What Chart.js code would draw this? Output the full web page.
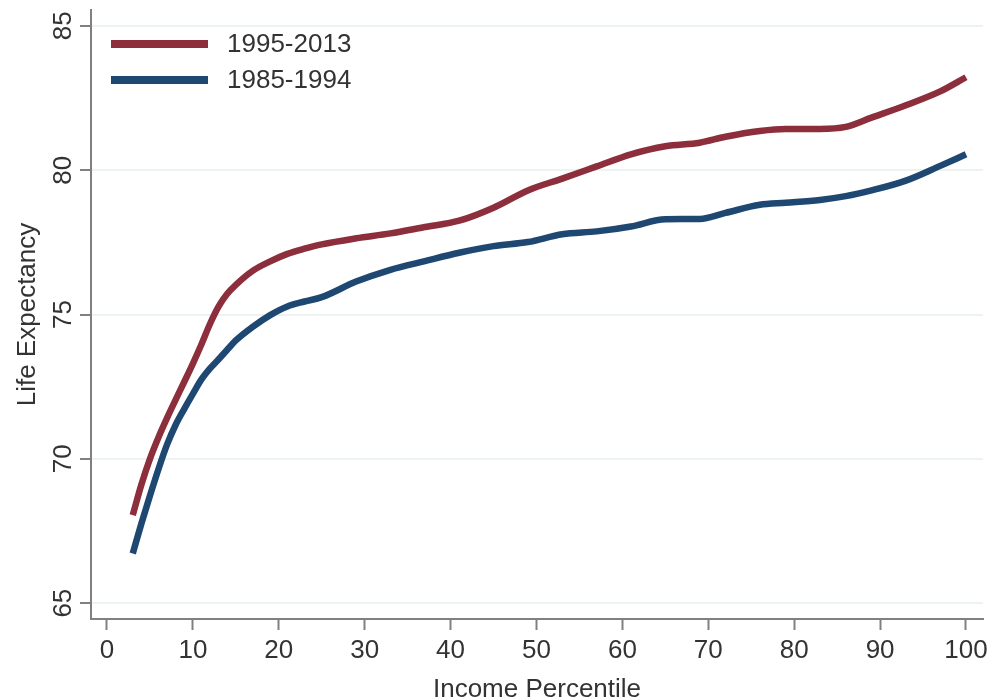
<!DOCTYPE html>
<html>
<head>
<meta charset="utf-8">
<script src="https://cdn.jsdelivr.net/npm/chart.js@4.4.1/dist/chart.umd.min.js"></script>
<style>
  html, body { margin: 0; padding: 0; background: #ffffff; }
  #wrap { width: 988px; height: 697px; }
</style>
</head>
<body>
<div id="wrap"><canvas id="chart" width="988" height="697"></canvas></div>
<script>
// Income percentile (x) and life expectancy in years (y) for two periods
const percentiles = [3, 4, 5, 6, 7, 8, 9, 10, 11, 12, 13, 14, 15, 17, 19, 21, 23, 25, 29, 33, 37, 41, 45, 49, 53, 57, 61, 65, 69, 72, 76, 79, 83, 86, 89, 93, 97, 100];
const lifeExp1995to2013 = [68.05, 69.1, 70.0, 70.75, 71.42, 72.05, 72.67, 73.3, 73.97, 74.68, 75.28, 75.72, 76.03, 76.52, 76.84, 77.1, 77.28, 77.43, 77.64, 77.81, 78.03, 78.25, 78.7, 79.3, 79.71, 80.13, 80.55, 80.83, 80.95, 81.16, 81.36, 81.43, 81.43, 81.5, 81.82, 82.25, 82.73, 83.22];
const lifeExp1985to1994 = [66.72, 67.75, 68.72, 69.65, 70.5, 71.18, 71.73, 72.25, 72.75, 73.13, 73.45, 73.78, 74.1, 74.58, 74.98, 75.28, 75.45, 75.6, 76.14, 76.55, 76.85, 77.14, 77.37, 77.51, 77.78, 77.88, 78.05, 78.3, 78.31, 78.52, 78.8, 78.87, 78.97, 79.1, 79.3, 79.64, 80.15, 80.55];
const seriesLabels = ['1995-2013', '1985-1994'];
const xTickValues = [0, 10, 20, 30, 40, 50, 60, 70, 80, 90, 100];
const yTickValues = [65, 70, 75, 80, 85];
const xAxisTitle = 'Income Percentile';
const yAxisTitle = 'Life Expectancy';

const RED = '#8c2e3b';
const BLUE = '#1e4872';
const TEXT = '#333333';
const AXIS = '#808080';
const FONT_FAMILY = '"Liberation Sans", Arial, sans-serif';
const FONT_SIZE = 26;

const toPoints = (xs, ys) => xs.map((x, i) => ({ x: x, y: ys[i] }));

// Rotated y tick labels, axis titles and the in-plot legend
const annotationText = {
  id: 'annotationText',
  afterDraw(chart) {
    const ctx = chart.ctx;
    const area = chart.chartArea;
    const yScale = chart.scales.y;
    ctx.save();
    ctx.fillStyle = TEXT;
    ctx.font = FONT_SIZE + 'px ' + FONT_FAMILY;

    // y tick labels, reading bottom to top
    yTickValues.forEach(v => {
      const py = yScale.getPixelForValue(v);
      ctx.save();
      ctx.translate(area.left - 20, py);
      ctx.rotate(-Math.PI / 2);
      ctx.textAlign = 'center';
      ctx.textBaseline = 'alphabetic';
      ctx.fillText(String(v), 0, 0);
      ctx.restore();
    });

    // y axis title
    ctx.save();
    ctx.translate(35, (area.top + area.bottom) / 2);
    ctx.rotate(-Math.PI / 2);
    ctx.textAlign = 'center';
    ctx.textBaseline = 'alphabetic';
    ctx.fillText(yAxisTitle, 0, 0);
    ctx.restore();

    // x axis title
    ctx.textAlign = 'center';
    ctx.textBaseline = 'alphabetic';
    ctx.fillText(xAxisTitle, (area.left + area.right) / 2, 697);

    // legend
    const ds = chart.data.datasets;
    const legendRows = [44, 80];
    ds.forEach((d, i) => {
      const ly = legendRows[i];
      ctx.strokeStyle = d.borderColor;
      ctx.lineWidth = 8;
      ctx.lineCap = 'butt';
      ctx.beginPath();
      ctx.moveTo(111, ly);
      ctx.lineTo(208, ly);
      ctx.stroke();
      ctx.textAlign = 'left';
      ctx.textBaseline = 'middle';
      ctx.fillStyle = TEXT;
      ctx.fillText(d.label, 227, ly + 1);
    });
    ctx.restore();
  }
};

new Chart(document.getElementById('chart'), {
  type: 'line',
  data: {
    datasets: [
      {
        label: seriesLabels[0],
        data: toPoints(percentiles, lifeExp1995to2013),
        borderColor: RED,
        borderWidth: 6.5,
        pointRadius: 0,
        cubicInterpolationMode: 'monotone',
        fill: false
      },
      {
        label: seriesLabels[1],
        data: toPoints(percentiles, lifeExp1985to1994),
        borderColor: BLUE,
        borderWidth: 6.5,
        pointRadius: 0,
        cubicInterpolationMode: 'monotone',
        fill: false
      }
    ]
  },
  options: {
    responsive: false,
    animation: false,
    devicePixelRatio: 1,
    layout: { padding: { left: 80, top: 10, right: 5, bottom: 28 } },
    plugins: {
      legend: { display: false },
      tooltip: { enabled: false }
    },
    scales: {
      x: {
        type: 'linear',
        min: -1.86,
        max: 101.98,
        afterBuildTicks: s => { s.ticks = xTickValues.map(v => ({ value: v })); },
        afterFit: s => { s.paddingLeft = 0; s.paddingRight = 0; s.height = 50; },
        ticks: {
          color: TEXT,
          padding: 5,
          font: { family: FONT_FAMILY, size: FONT_SIZE },
          maxRotation: 0,
          autoSkip: false
        },
        grid: {
          drawOnChartArea: false,
          drawTicks: true,
          tickLength: 11,
          tickWidth: 2,
          tickColor: AXIS
        },
        border: { display: true, color: AXIS, width: 2 }
      },
      y: {
        type: 'linear',
        min: 64.45,
        max: 85.55,
        afterBuildTicks: s => { s.ticks = yTickValues.map(v => ({ value: v })); },
        afterFit: s => { s.width = 11; s.paddingTop = 0; s.paddingBottom = 0; },
        ticks: { display: false },
        grid: {
          color: '#edf2f3',
          lineWidth: 2,
          drawTicks: true,
          tickLength: 11,
          tickWidth: 2,
          tickColor: AXIS
        },
        border: { display: true, color: AXIS, width: 2 }
      }
    }
  },
  plugins: [annotationText]
});
</script>
</body>
</html>
